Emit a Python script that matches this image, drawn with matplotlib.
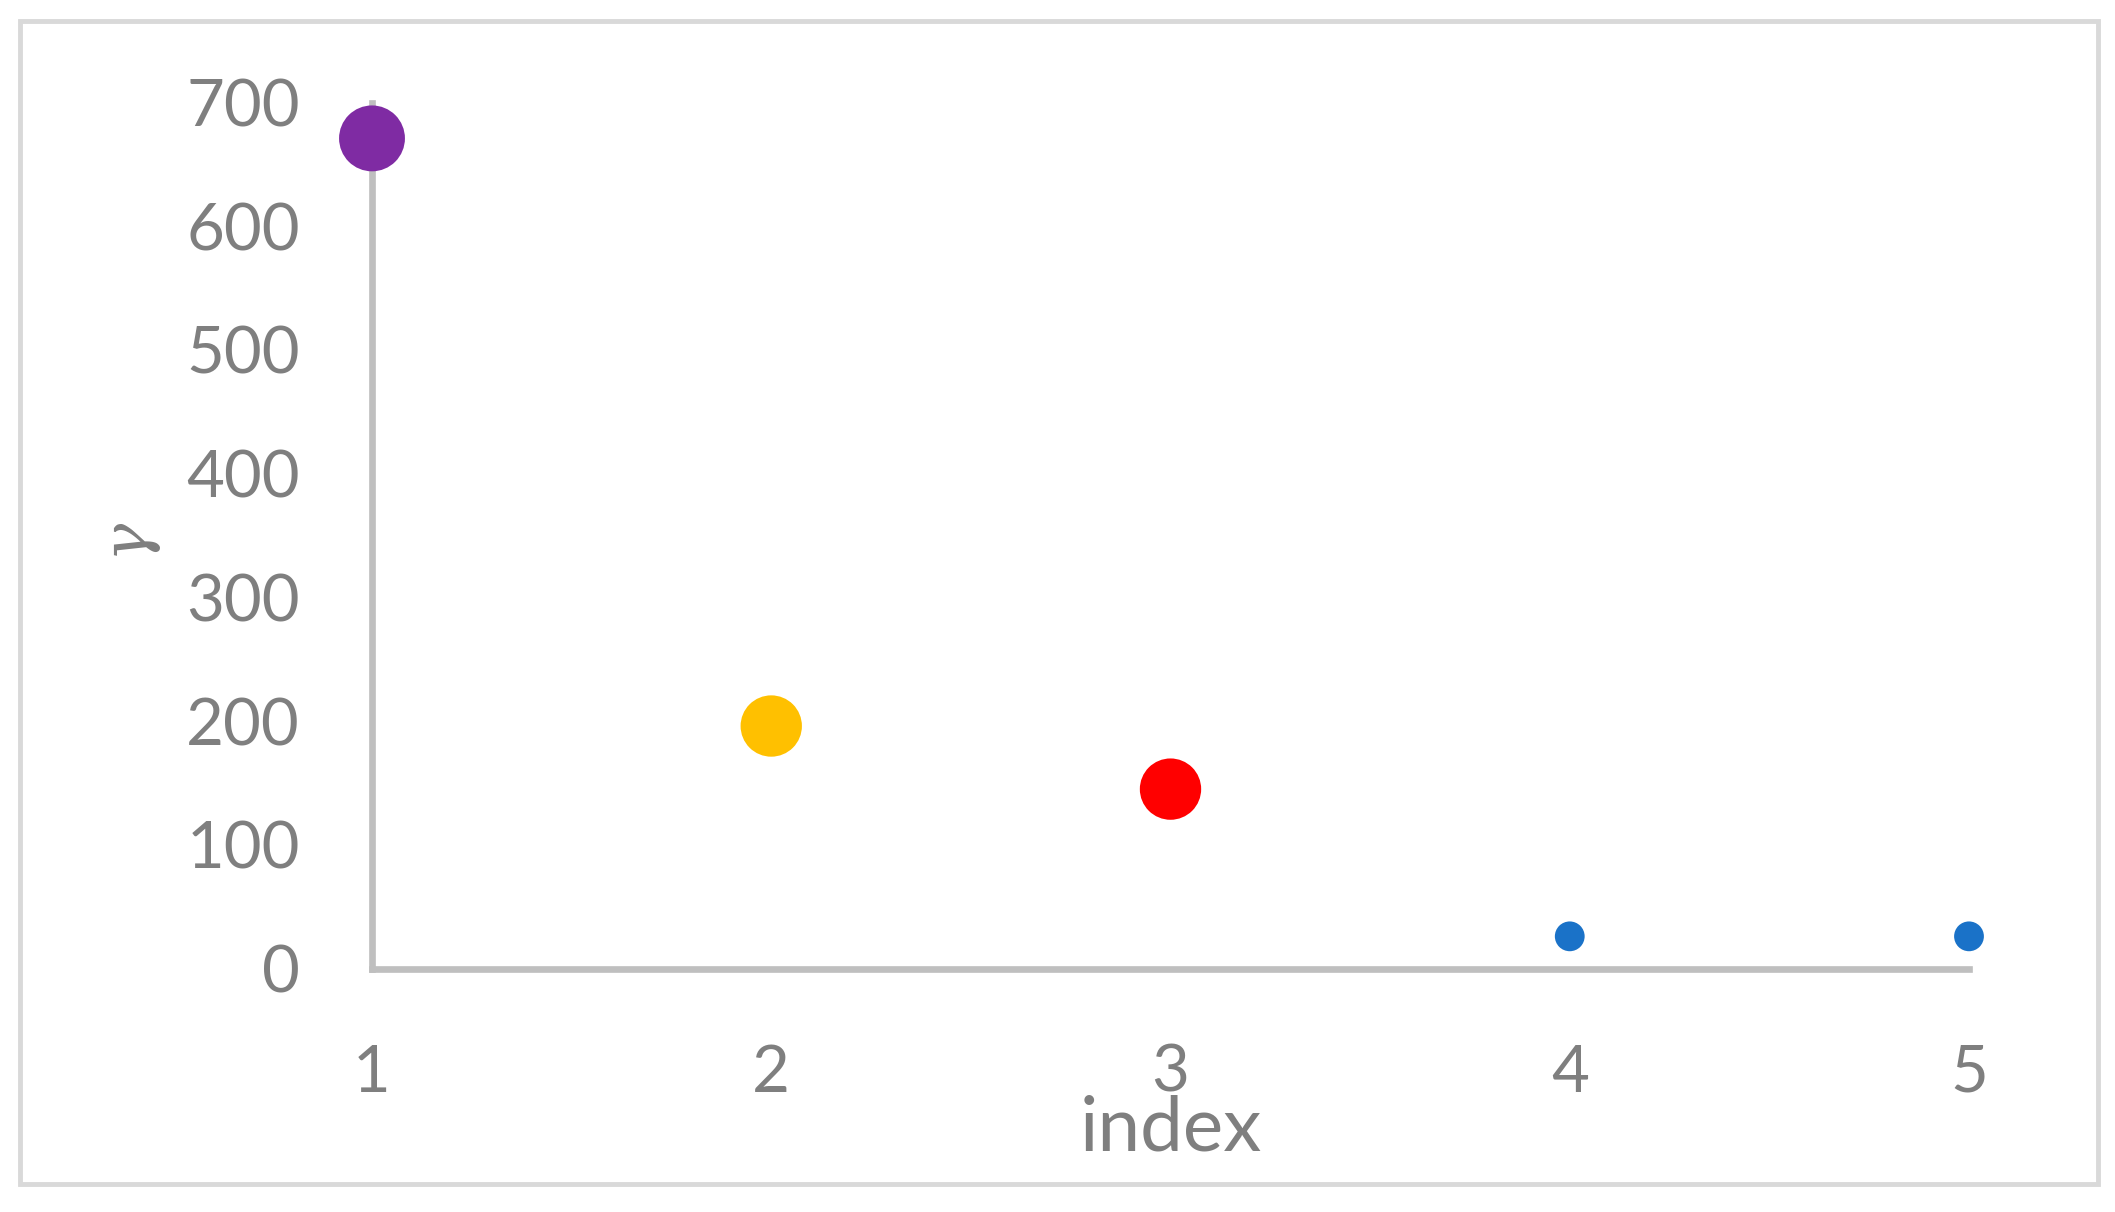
import matplotlib
matplotlib.use("Agg")
import matplotlib.pyplot as plt
from matplotlib.patches import Rectangle

# Data
index = [1, 2, 3, 4, 5]
gamma = [671, 196, 145, 26, 26]
colors = ["#7F2BA3", "#FFC000", "#FF0000", "#1A72C8", "#1A72C8"]
sizes = [2250, 1950, 1950, 460, 460]
xticks = [1, 2, 3, 4, 5]
yticks = [0, 100, 200, 300, 400, 500, 600, 700]

plt.rcParams['font.family'] = ['Lato', 'DejaVu Sans']
txt = "#7F7F7F"
axc = "#BFBFBF"

fig = plt.figure(figsize=(21.15, 12.12), dpi=100)
ax = fig.add_axes([372/2115, 1-968.5/1212, (1969-372)/2115, (968.5-102.5)/1212])

ax.scatter(index, gamma, s=sizes, c=colors, linewidths=0, clip_on=False, zorder=3)

ax.set_xlim(1, 5)
ax.set_ylim(0, 700)
ax.set_xticks(xticks)
ax.set_yticks(yticks)
ax.tick_params(axis='both', length=0, labelsize=47, labelcolor=txt)
ax.tick_params(axis='y', pad=52)
ax.tick_params(axis='x', pad=54)

for s in ['top', 'right']:
    ax.spines[s].set_visible(False)
for s in ['left', 'bottom']:
    ax.spines[s].set_color(axc)
    ax.spines[s].set_linewidth(4.8)

ax.set_xlabel("index", fontsize=55, color=txt, labelpad=-6)
ax.set_ylabel("γ", fontsize=46, color=txt, family=['DejaVu Serif'], style='italic', labelpad=22)

# outer chart border
fig.patches.append(Rectangle((20/2115, 1-1184/1212), (2098-20)/2115, (1184-21)/1212,
                             transform=fig.transFigure, fill=False,
                             edgecolor="#D9D9D9", linewidth=3.5))

fig.savefig("out.png", dpi=100, facecolor="white")
